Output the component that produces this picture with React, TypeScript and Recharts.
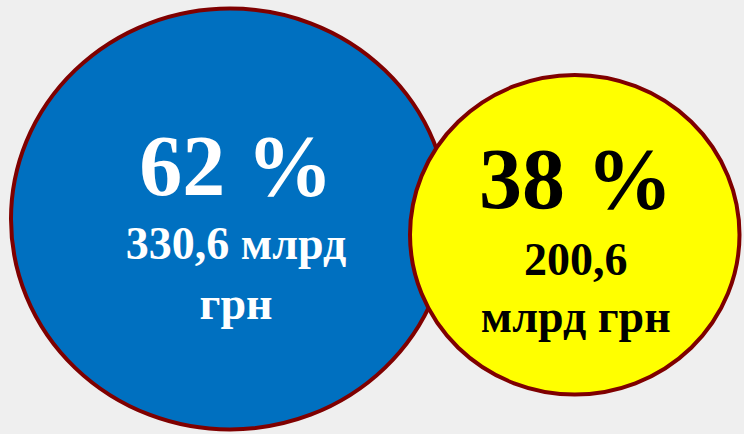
import React from 'react';
import { PieChart, Pie, Cell } from 'recharts';

const shares = [62, 38];
const amountLines = [
  ['330,6 млрд', 'грн'],
  ['200,6', 'млрд грн'],
];

const blueData = [{ name: 'blue', value: shares[0] }];
const yellowData = [{ name: 'yellow', value: shares[1] }];

const FONT = 'Liberation Serif';
const BORDER = '#7f0000';

// the bubbles are very slightly wider than tall
const stretch: Record<string, number> = { blue: 219 / 210.5, yellow: 164.75 / 159.75 };

const EllipseShape = (props: any) => {
  const { cx, cy, outerRadius, fill, payload } = props;
  const k = stretch[payload?.name] ?? 1;
  return (
    <ellipse cx={cx} cy={cy} rx={outerRadius * k} ry={outerRadius} fill={fill} stroke={BORDER} strokeWidth={4} />
  );
};

const makeLabel = (idx: number, color: string, pctDy: number, lineDy: number[], dx: number) => (props: any) => {
  const { cx, cy } = props;
  const lines = amountLines[idx];
  const txt = { fontFamily: FONT, fontWeight: 700 };
  return (
    <g>
      <text x={cx + dx} y={cy + pctDy} textAnchor="middle" fill={color} style={{ ...txt, fontSize: 86 }}>
        {`${shares[idx]} %`}
      </text>
      {lines.map((l, i) => (
        <text key={i} x={cx + dx} y={cy + lineDy[i]} textAnchor="middle" fill={color} style={{ ...txt, fontSize: 46 }}>
          {l}
        </text>
      ))}
    </g>
  );
};

export default function App() {
  return (
    <div style={{ position: 'absolute', left: 0, top: 0, width: 744, height: 434, background: '#efefef' }}>
      <PieChart width={744} height={434} margin={{ top: 0, right: 0, bottom: 0, left: 0 }}>
        <Pie
          data={blueData}
          dataKey="value"
          cx={230}
          cy={219}
          innerRadius={0}
          outerRadius={210.5}
          startAngle={90}
          endAngle={-270}
          shape={EllipseShape}
          label={makeLabel(0, '#ffffff', -24, [40, 100], 6)}
          labelLine={false}
          isAnimationActive={false}
        >
          <Cell fill="#0070c0" />
        </Pie>
        <Pie
          data={yellowData}
          dataKey="value"
          cx={574.75}
          cy={234.75}
          innerRadius={0}
          outerRadius={159.75}
          startAngle={90}
          endAngle={-270}
          shape={EllipseShape}
          label={makeLabel(1, '#000000', -27, [40, 97], 1)}
          labelLine={false}
          isAnimationActive={false}
        >
          <Cell fill="#ffff00" />
        </Pie>
      </PieChart>
    </div>
  );
}
